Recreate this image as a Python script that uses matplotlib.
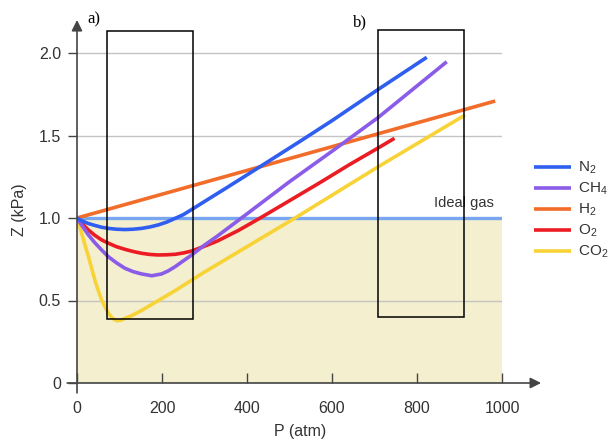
import matplotlib
matplotlib.use("Agg")
import numpy as np
import matplotlib.pyplot as plt
from matplotlib.patches import Rectangle

plt.rcParams['font.family'] = ['Liberation Sans', 'DejaVu Sans']
plt.rcParams['mathtext.fontset'] = 'custom'
plt.rcParams['mathtext.rm'] = 'Liberation Sans'
plt.rcParams['mathtext.it'] = 'Liberation Sans:italic'

# Data (P in atm, Z)
n2_p = [0, 10, 25, 42, 58, 74, 93, 113, 132, 152, 172, 191, 211, 231, 250, 274, 300, 350, 427, 525, 600, 709, 823]
n2_z = [1.0, 0.985, 0.968, 0.955, 0.944, 0.937, 0.932, 0.93, 0.932, 0.937, 0.946, 0.958, 0.975, 0.998,
        1.02, 1.058, 1.10, 1.18, 1.305, 1.465, 1.59, 1.78, 1.974]

ch4_p = [0, 10, 27, 42, 58, 74, 93, 113, 132, 152, 176, 199, 215, 231, 250, 270, 297, 330, 387, 500, 603, 709, 870]
ch4_z = [1.0, 0.96, 0.897, 0.85, 0.806, 0.765, 0.728, 0.695, 0.675, 0.661, 0.65, 0.661, 0.68, 0.705,
         0.74, 0.776, 0.83, 0.89, 1.0, 1.22, 1.41, 1.61, 1.947]

h2_p = [0, 984]
h2_z = [1.0, 1.709]

o2_p = [0, 10, 27, 42, 58, 74, 93, 113, 132, 152, 172, 191, 211, 231, 250, 270, 297, 330, 380, 431, 500, 572, 642, 709, 747]
o2_z = [1.0, 0.97, 0.927, 0.895, 0.867, 0.847, 0.826, 0.81, 0.797, 0.786, 0.779, 0.776, 0.777, 0.78,
        0.788, 0.80, 0.826, 0.86, 0.925, 1.0, 1.105, 1.215, 1.325, 1.425, 1.483]

co2_p = [0, 5, 11, 19, 27, 35, 42, 50, 58, 66, 74, 83, 93, 103, 113, 130, 152, 231, 297, 344, 513, 709, 913]
co2_z = [1.0, 0.96, 0.907, 0.835, 0.766, 0.69, 0.624, 0.56, 0.503, 0.46, 0.422, 0.393, 0.378, 0.38,
         0.392, 0.41, 0.44, 0.56, 0.668, 0.74, 1.0, 1.311, 1.624]

gases = ['N$_2$', 'CH$_4$', 'H$_2$', 'O$_2$', 'CO$_2$']
colors = ['#2f5ef0', '#8a5ce8', '#f26c2a', '#ec1c24', '#f8d337']

ideal_p = [0, 1000]
ideal_z = [1.0, 1.0]

# boxes a) and b): (p_left, p_right, z_bottom, z_top)
box_a = (71, 272, 0.388, 2.135)
box_b = (709, 910, 0.40, 2.14)

xticks = [0, 200, 400, 600, 800, 1000]
yticks = [0, 0.5, 1.0, 1.5, 2.0]
yticklabels = ['0', '0.5', '1.0', '1.5', '2.0']

fig = plt.figure(figsize=(6.15, 4.42), dpi=100)
ax = fig.add_axes([77 / 615, 59 / 442, 425 / 615, 363 / 442])
ax.set_xlim(0, 1000)
ax.set_ylim(0, 2.2)

axis_col = '#444444'
txt_col = '#333333'

# shaded non-ideal region
ax.fill_between(ideal_p, 0, ideal_z, color='#f3efcf', lw=0, zorder=0)

ax.set_yticks(yticks)
ax.set_yticklabels(yticklabels)
ax.set_xticks(xticks)
ax.grid(axis='y', color='#c4c4c4', lw=1.0, zorder=0.5)
for s in ax.spines.values():
    s.set_visible(False)
ax.tick_params(axis='x', direction='in', length=7, width=1, color=axis_col,
               labelsize=11.5, labelcolor=txt_col, pad=13)
ax.tick_params(axis='y', direction='out', length=6.5, width=1, color=axis_col,
               labelsize=11.5, labelcolor=txt_col, pad=5)

ax.plot(ideal_p, ideal_z, color='#78a6f0', lw=2.4, zorder=2)
ax.text(840, 1.09, 'Ideal gas', fontsize=10.5, color='#333333', va='center', ha='left')

series = [(n2_p, n2_z), (ch4_p, ch4_z), (h2_p, h2_z), (o2_p, o2_z), (co2_p, co2_z)]
order = [2, 4, 3, 1, 0]
for i in order:
    p, z = series[i]
    ax.plot(p, z, color=colors[i], lw=2.6, solid_capstyle='butt', solid_joinstyle='round',
            zorder=3, label=gases[i])

for (x0, x1, y0, y1) in (box_a, box_b):
    ax.add_patch(Rectangle((x0, y0), x1 - x0, y1 - y0, fill=False, ec='black', lw=1.1, zorder=4))

# axis arrows
arrow = dict(arrowstyle='-|>', color=axis_col, lw=1.2, mutation_scale=16, shrinkA=0, shrinkB=0)
ax.annotate('', xy=(1092, 0), xytext=(-23, 0), arrowprops=arrow, annotation_clip=False, zorder=5)
ax.annotate('', xy=(0, 2.2), xytext=(0, -0.06), arrowprops=arrow, annotation_clip=False, zorder=5)

ax.set_xlabel('P (atm)', fontsize=11.5, color=txt_col)
ax.set_ylabel('Z (kPa)', fontsize=11.5, color=txt_col)
ax.xaxis.set_label_coords((300 - 77) / 425, (383 - 424) / 363)
ax.yaxis.set_label_coords((27 - 77) / 425, (383 - 210) / 363)

fig.text(94 / 615, 1 - 19 / 442, 'a)', family='Liberation Serif', fontsize=12, ha='center', va='center')
fig.text(360 / 615, 1 - 22 / 442, 'b)', family='Liberation Serif', fontsize=12, ha='center', va='center')

handles, labels = ax.get_legend_handles_labels()
idx = [labels.index(g) for g in gases]
fig.legend([handles[k] for k in idx], [labels[k] for k in idx], loc='upper left',
           bbox_to_anchor=(534 / 615, 1 - 160 / 442), frameon=False, fontsize=11,
           handlelength=2.4, handletextpad=0.5, labelspacing=0.3, borderpad=0,
           borderaxespad=0, labelcolor=txt_col)

fig.savefig('out.png', dpi=100)
